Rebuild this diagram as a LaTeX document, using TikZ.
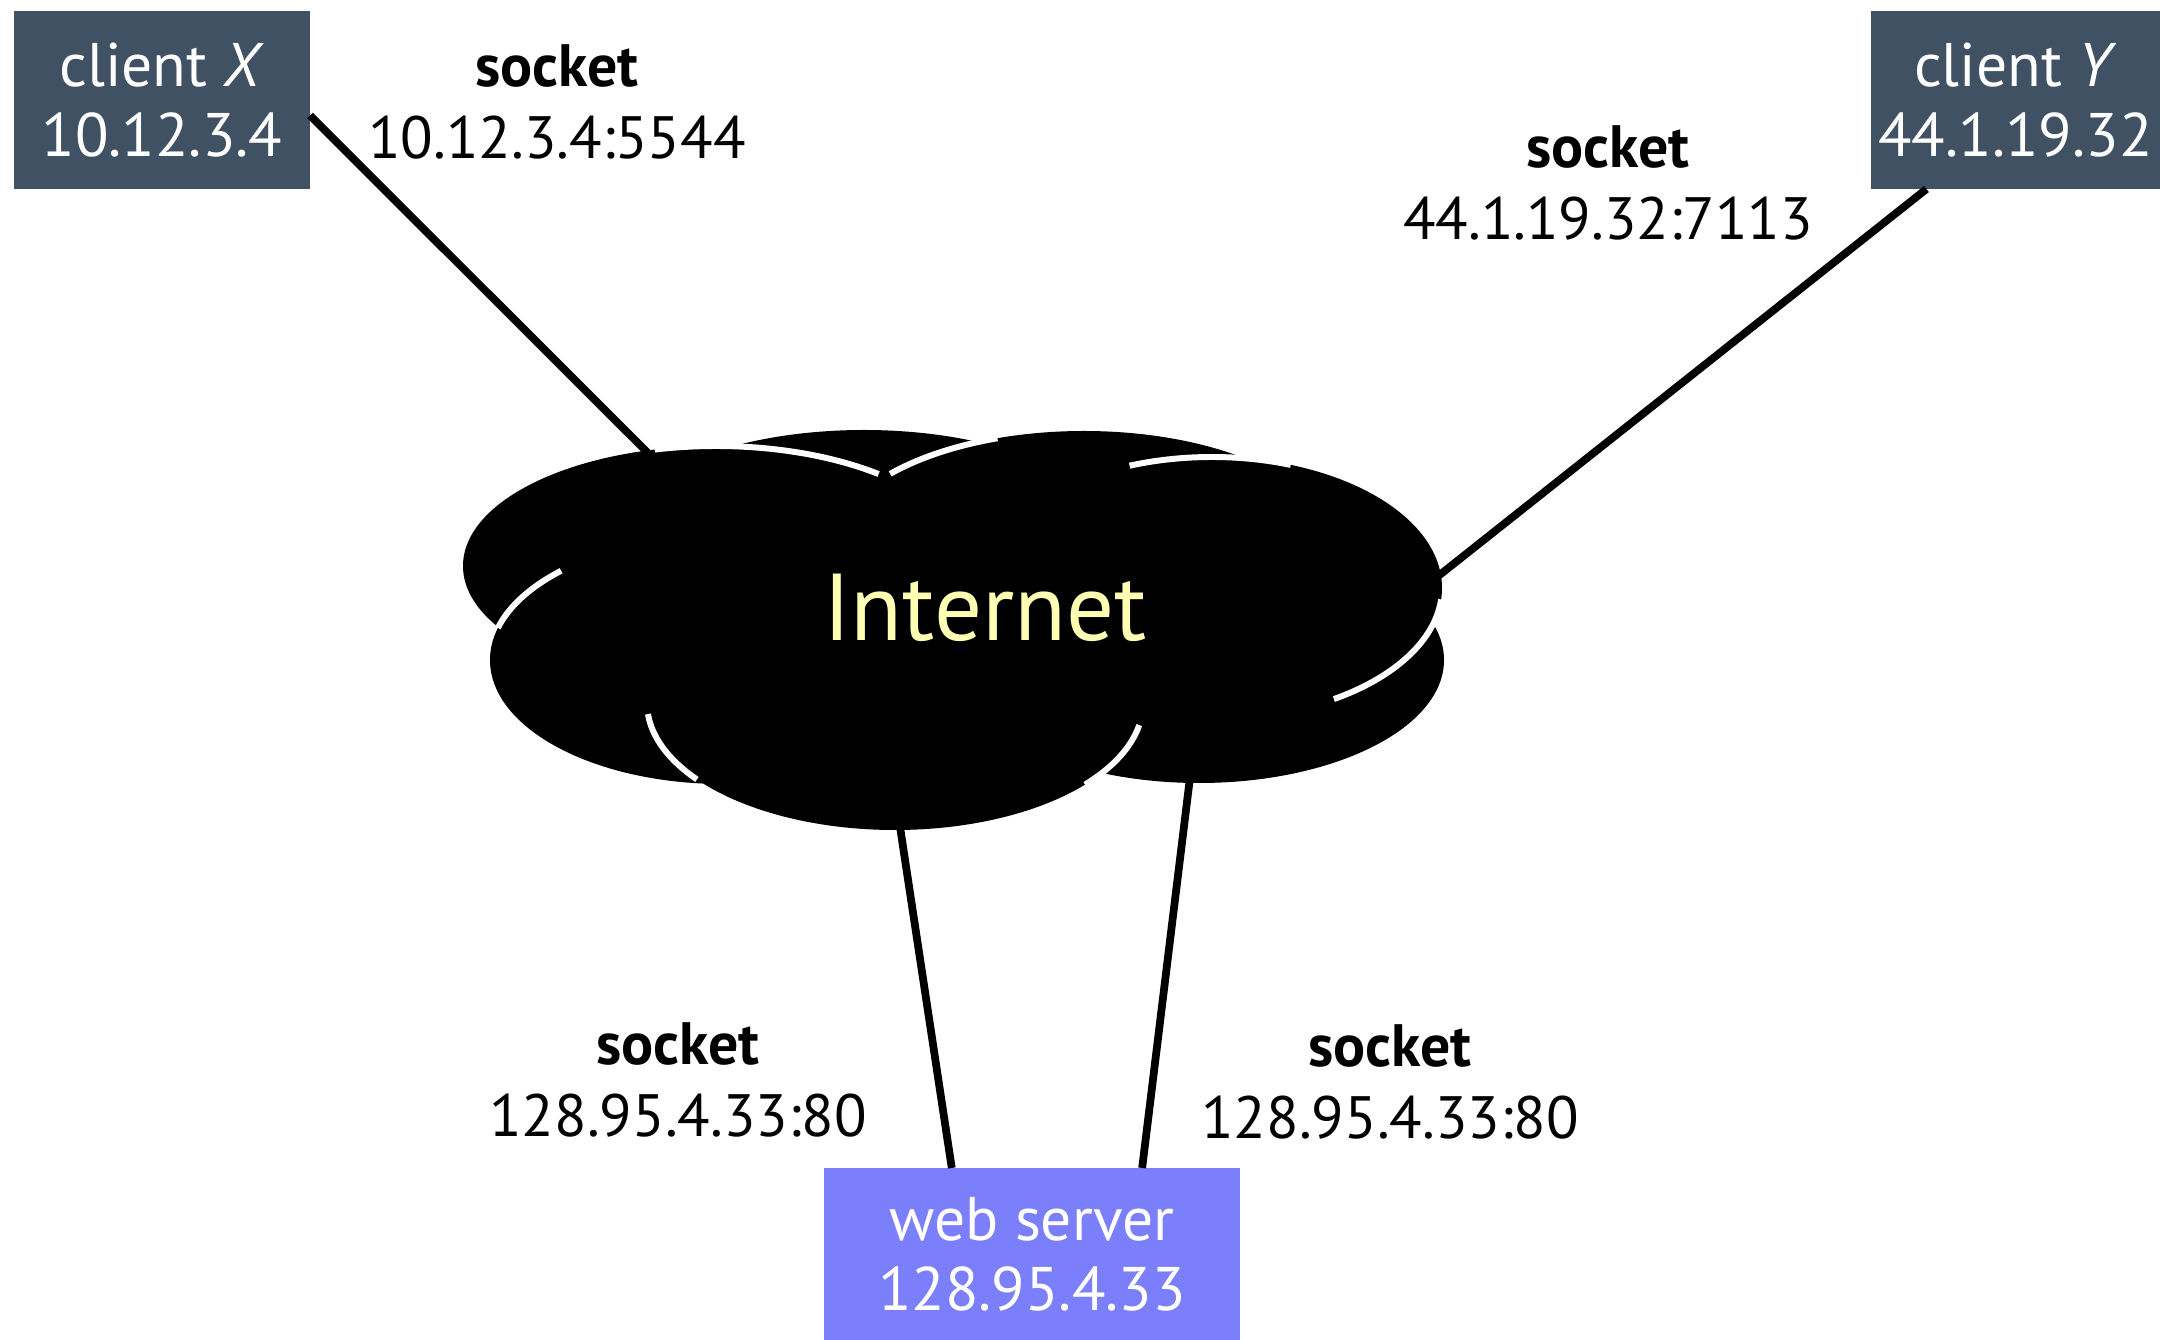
\documentclass[tikz,border=0pt]{standalone}
\usepackage{fontspec}
\setmainfont{PT Sans}
\usepackage{xcolor}

\definecolor{slate}{HTML}{3F5162}
\definecolor{periwinkle}{HTML}{7B7FFB}
\definecolor{paleyellow}{HTML}{FFFFB4}

\begin{document}
\begin{tikzpicture}[x=0.01cm, y=-0.01cm,
    every node/.style={align=center, inner sep=0pt, outer sep=0pt},
    host/.style={fill=slate, text=white, minimum width=2.96cm, minimum height=1.78cm, font=\fontsize{17.5}{20}\selectfont},
    server/.style={fill=periwinkle, text=white, minimum width=4.16cm, minimum height=1.72cm, font=\fontsize{17.5}{20}\selectfont},
    sock/.style={font=\fontsize{17}{20.5}\selectfont},
    link/.style={line width=2.2pt},
    rim/.style={white, line width=1.7pt}]
    \useasboundingbox (0,0) rectangle (2160,1340);

    % Hosts
    \node[host] (clientX) at (162,100) {client \textit{X}\\10.12.3.4};
    \node[host, minimum width=2.89cm] (clientY) at (2015.5,100) {client \textit{Y}\\44.1.19.32};
    \node[server] (server) at (1032,1254) {web server\\128.95.4.33};

    % Socket labels
    \node[sock] (sockX) at (557,102) {\textbf{socket}\\10.12.3.4:5544};
    \node[sock] (sockY) at (1608,183) {\textbf{socket}\\44.1.19.32:7113};
    \node[sock] (sockL) at (678,1080) {\textbf{socket}\\128.95.4.33:80};
    \node[sock] (sockR) at (1390,1082) {\textbf{socket}\\128.95.4.33:80};

    % Links (ends go under the cloud)
    \coordinate (cloudX) at (658,463);
    \coordinate (cloudY) at (1432,581);
    \coordinate (cloudL) at (897,807);
    \coordinate (cloudR) at (1192,761);
    \draw[link] (clientX.-6.6) -- (cloudX);
    \draw[link] (clientY.-135) -- (cloudY);
    \draw[link] (server.133) -- (cloudL);
    \draw[link] (server.38) -- (cloudR);

    % Cloud
    \fill (864,551) ellipse [x radius=262, y radius=121]
          (716,566) ellipse [x radius=253, y radius=120]
          (1084,551) ellipse [x radius=253, y radius=120]
          (723,660) ellipse [x radius=233, y radius=124]
          (1199,660) ellipse [x radius=245, y radius=123]
          (1212,588) ellipse [x radius=230, y radius=131]
          (895,703) ellipse [x radius=248, y radius=127];
    \draw[rim] (716,566) ++(-104:253 and 120) arc[start angle=-104, end angle=-50, x radius=253, y radius=120];
    \draw[rim] (1084,551) ++(-140:253 and 120) arc[start angle=-140, end angle=-110, x radius=253, y radius=120];
    \draw[rim] (1212,588) ++(-111:230 and 131) arc[start angle=-111, end angle=-70, x radius=230, y radius=131];
    \draw[rim] (1212,588) ++(5:230 and 131) arc[start angle=5, end angle=58, x radius=230, y radius=131];
    \draw[rim] (723,660) ++(-134:233 and 124) arc[start angle=-134, end angle=-165, x radius=233, y radius=124];
    \draw[rim] (895,703) ++(143:248 and 127) arc[start angle=143, end angle=175, x radius=248, y radius=127];
    \draw[rim] (895,703) ++(10:248 and 127) arc[start angle=10, end angle=40, x radius=248, y radius=127];
    \node[text=paleyellow, font=\fontsize{27}{32}\selectfont] (inet) at (985,608) {Internet};
\end{tikzpicture}
\end{document}
